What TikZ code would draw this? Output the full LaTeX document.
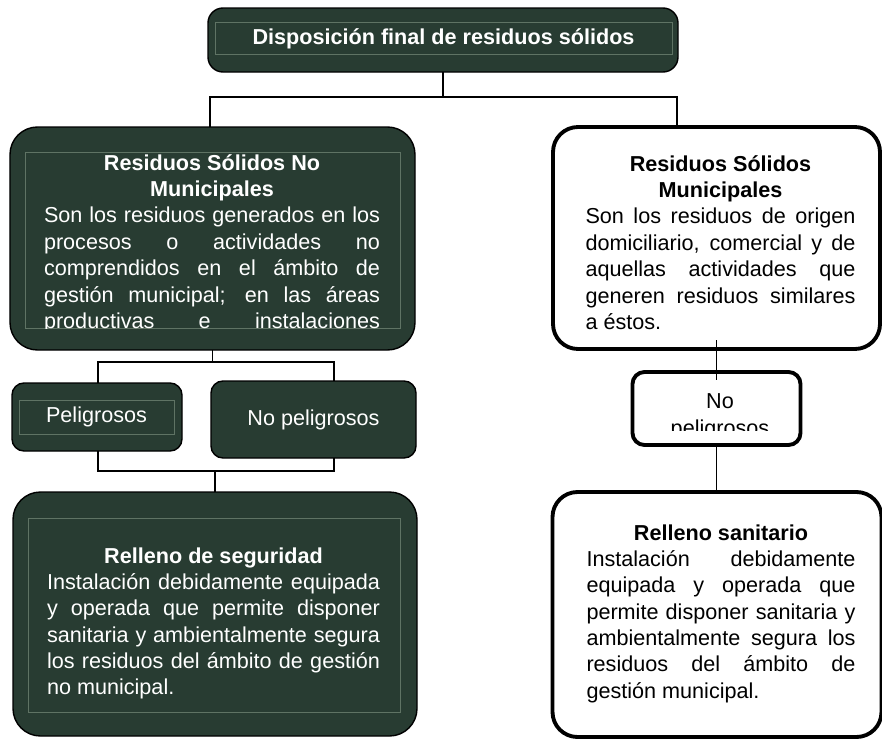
\documentclass[tikz,border=0pt]{standalone}
\usepackage{fontspec}
\setmainfont{Liberation Sans}
\usepackage{tikz}
\usetikzlibrary{calc}
\setlength{\parindent}{0pt}
\hyphenpenalty=10000

\definecolor{boxgreen}{RGB}{40,60,50}
\definecolor{gridgreen}{RGB}{95,115,100}
\tikzset{
  darkbox/.style={draw=black,line width=0.8pt,fill=boxgreen,rounded corners=#1,outer sep=0pt},
  darkbox/.default=0.55cm,
  whitebox/.style={draw=black,line width=2.2pt,fill=white,rounded corners=#1,outer sep=0pt},
  whitebox/.default=0.5cm,
  gridbox/.style={draw=gridgreen,line width=0.4pt,outer sep=0pt},
  boxtext/.style={font=\fontsize{12.3}{15}\selectfont,inner sep=0pt,anchor=north},
  link/.style={draw=black,line width=0.9pt}
}

\begin{document}
\begin{tikzpicture}
    \useasboundingbox (0,0) rectangle (17.64,-14.78);

    \node[darkbox=0.3cm,minimum width=9.4cm,minimum height=1.28cm] (top) at (8.86,-0.80) {};
    \node[gridbox,boxtext,anchor=center,text=white,minimum width=9.14cm,minimum height=0.64cm] (toptxt) at (8.87,-0.77) {\bfseries Disposición final de residuos sólidos};

    \node[darkbox,minimum width=8.1cm,minimum height=4.46cm] (nm) at (4.25,-4.77) {};
    \node[gridbox,minimum width=7.5cm,minimum height=3.52cm] (nmin) at (4.25,-4.80) {};
    \begin{scope}
        \clip (nmin.south west) rectangle (nmin.north east);
        \node[boxtext,text=white,text width=6.72cm,align=justify] (nmtxt) at (4.24,-3.08) {{\centering\bfseries Residuos Sólidos No\\ Municipales\par}Son los residuos generados en los\linebreak procesos o actividades no\linebreak comprendidos en el ámbito de\linebreak gestión municipal; en las áreas\linebreak productivas e instalaciones\linebreak};
    \end{scope}

    \node[darkbox=0.24cm,minimum width=3.4cm,minimum height=1.36cm] (pel) at (1.94,-8.34) {};
    \node[gridbox,boxtext,anchor=center,text=white,minimum width=3.1cm,minimum height=0.68cm] (peltxt) at (1.93,-8.34) {Peligrosos};
    \node[darkbox=0.24cm,boxtext,anchor=center,text=white,minimum width=4.1cm,minimum height=1.54cm] (npel) at (6.27,-8.39) {No peligrosos};

    \node[darkbox,minimum width=8.08cm,minimum height=4.88cm] (sec) at (4.30,-12.28) {};
    \node[gridbox,minimum width=7.44cm,minimum height=3.88cm] (secin) at (4.28,-12.30) {};
    \node[boxtext,text=white,text width=6.66cm,align=justify] (sectxt) at (4.27,-10.94) {{\centering\bfseries Relleno de seguridad\par}Instalación debidamente equipada\linebreak y operada que permite disponer\linebreak sanitaria y ambientalmente segura\linebreak los residuos del ámbito de gestión\linebreak no municipal.};

    \node[whitebox,minimum width=6.54cm,minimum height=4.44cm] (rsm) at (14.33,-4.76) {};
    \node[boxtext,text width=5.40cm,align=justify] (rsmtxt) at (14.41,-3.10) {{\centering\bfseries Residuos Sólidos\\ Municipales\par}Son los residuos de origen\linebreak domiciliario, comercial y de\linebreak aquellas actividades que\linebreak generen residuos similares\linebreak a éstos.};

    \node[whitebox=0.24cm,minimum width=3.36cm,minimum height=1.46cm] (np2) at (14.33,-8.17) {};
    \begin{scope}
        \clip (12.8,-7.56) rectangle (15.9,-8.60);
        \node[boxtext,text width=2.6cm,align=center] (np2txt) at (14.40,-7.87) {No\\ peligrosos};
    \end{scope}

    \node[whitebox,minimum width=6.58cm,minimum height=4.9cm] (rss) at (14.34,-12.29) {};
    \node[boxtext,text width=5.38cm,align=justify] (rsstxt) at (14.42,-10.48) {{\centering\bfseries Relleno sanitario\par}Instalación debidamente\linebreak equipada y operada que\linebreak permite disponer sanitaria y\linebreak ambientalmente segura los\linebreak residuos del ámbito de\linebreak gestión municipal.};

    \coordinate (j1l) at (4.20,-1.94);
    \coordinate (j1r) at (13.54,-1.94);
    \draw[link] (top.south) -- (top.south |- j1l);
    \draw[link] (nm.north -| j1l) -- (j1l) -- (j1r) -- (j1r |- rsm.north);

    \coordinate (j2l) at (1.96,-7.24);
    \coordinate (j2r) at (6.68,-7.24);
    \draw[link] (nm.south) -- (nm.south |- j2l);
    \draw[link] (pel.north -| j2l) -- (j2l) -- (j2r) -- (j2r |- npel.north);

    \coordinate (j3l) at (1.96,-9.42);
    \coordinate (j3r) at (6.68,-9.42);
    \draw[link] (pel.south -| j3l) -- (j3l) -- (j3r) -- (j3r |- npel.south);
    \draw[link] (sec.north) -- (sec.north |- j3l);

    \draw[link] ([yshift=0.18cm]rsm.south) -- ([yshift=-0.16cm]np2.north);
    \draw[link] (np2.south) -- (np2.south |- rss.north);
\end{tikzpicture}
\end{document}
